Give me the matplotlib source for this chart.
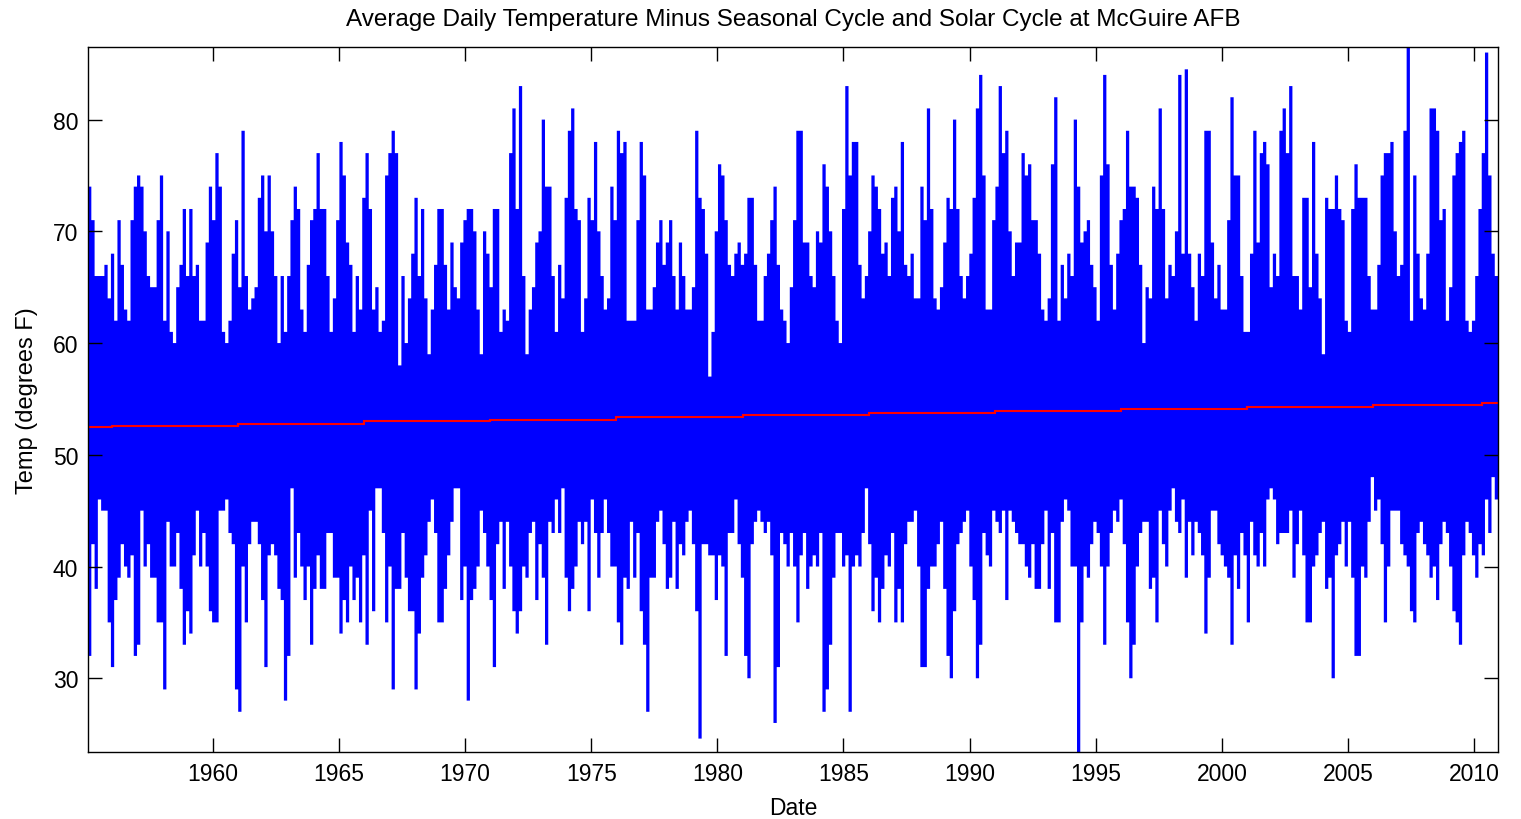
import matplotlib.pyplot as plt
import numpy as np

# upper / lower envelope of the daily series, ~0.13 yr columns (one row per ~4.7 yr)
hi = [
    74, 71, 66, 66, 66, 67, 64, 68, 62, 71, 67, 63, 62, 71, 74, 75, 74, 70, 66, 65, 65, 71, 75, 62, 70, 61, 60, 65, 67, 72, 66, 72, 66, 67, 62, 62,
    69, 74, 71, 77, 74, 61, 60, 62, 68, 71, 65, 79, 66, 63, 64, 65, 73, 75, 70, 75, 70, 66, 60, 66, 61, 66, 71, 74, 72, 63, 61, 67, 71, 72, 77, 72,
    72, 66, 61, 64, 71, 78, 75, 69, 67, 61, 66, 63, 73, 77, 72, 63, 65, 61, 62, 75, 77, 79, 77, 58, 66, 60, 64, 68, 73, 66, 72, 64, 59, 63, 67, 72,
    72, 67, 63, 69, 65, 64, 69, 71, 72, 72, 70, 63, 59, 70, 68, 65, 72, 72, 61, 63, 62, 77, 81, 72, 83, 66, 59, 63, 65, 69, 70, 80, 74, 74, 66, 61,
    67, 64, 73, 79, 81, 72, 71, 61, 64, 73, 71, 78, 70, 66, 63, 64, 74, 71, 79, 77, 78, 62, 62, 62, 71, 78, 75, 63, 63, 65, 69, 71, 67, 69, 71, 66,
    63, 69, 66, 63, 63, 65, 79, 73, 72, 68, 57, 61, 70, 76, 75, 71, 67, 66, 68, 69, 67, 68, 73, 73, 67, 62, 62, 66, 68, 71, 74, 67, 63, 62, 60, 65,
    71, 79, 79, 69, 69, 66, 65, 70, 69, 76, 74, 70, 66, 62, 60, 72, 83, 75, 78, 78, 67, 64, 66, 70, 75, 74, 72, 68, 69, 66, 73, 74, 70, 78, 67, 66,
    68, 64, 64, 74, 71, 81, 72, 64, 63, 65, 69, 73, 72, 80, 72, 66, 64, 66, 68, 73, 81, 84, 75, 63, 63, 71, 74, 83, 77, 79, 70, 66, 69, 69, 77, 75,
    76, 71, 71, 68, 63, 62, 64, 76, 82, 62, 67, 64, 68, 66, 80, 74, 69, 70, 71, 67, 65, 62, 75, 84, 76, 67, 63, 68, 71, 72, 79, 74, 74, 73, 67, 60,
    65, 64, 74, 72, 81, 72, 64, 67, 66, 70, 84, 68, 84.5, 68, 65, 62, 68, 66, 79, 79, 69, 64, 67, 63, 63, 71, 82, 75, 75, 66, 61, 61, 68, 79, 69, 77,
    78, 76, 65, 68, 66, 79, 81, 77, 83, 66, 66, 63, 73, 73, 65, 78, 68, 64, 59, 73, 72, 72, 75, 72, 71, 62, 61, 72, 76, 73, 73, 73, 66, 63, 63, 67,
    75, 77, 77, 78, 70, 66, 67, 79, 86.5, 62, 75, 68, 64, 63, 68, 81, 81, 79, 71, 72, 62, 65, 75, 77, 78, 79, 62, 61, 62, 66, 72, 77, 86, 75, 68, 66,
]
lo = [
    32, 42, 38, 46, 45, 45, 35, 31, 37, 39, 42, 40, 39, 41, 32, 33, 45, 40, 42, 39, 39, 35, 35, 29, 44, 40, 40, 43, 38, 33, 36, 34, 41, 45, 40, 43,
    40, 36, 35, 35, 45, 45, 46, 43, 42, 29, 27, 40, 35, 42, 44, 44, 42, 37, 31, 41, 42, 41, 38, 37, 28, 32, 47, 39, 43, 40, 37, 40, 33, 38, 41, 38,
    38, 43, 43, 39, 39, 34, 37, 35, 40, 37, 39, 35, 41, 33, 45, 36, 47, 47, 43, 35, 40, 29, 38, 38, 43, 39, 36, 36, 29, 34, 39, 41, 44, 46, 43, 35,
    35, 38, 41, 44, 47, 47, 37, 40, 28, 37, 38, 40, 45, 43, 40, 37, 31, 42, 44, 38, 44, 40, 36, 34, 36, 40, 39, 43, 44, 37, 42, 39, 33, 44, 43, 46,
    43, 47, 39, 36, 38, 40, 44, 42, 44, 36, 46, 43, 39, 43, 46, 43, 40, 40, 35, 33, 39, 38, 44, 39, 43, 36, 33, 27, 39, 39, 44, 45, 42, 38, 39, 44,
    38, 42, 41, 44, 45, 42, 36, 24.6, 42, 42, 41, 41, 37, 41, 40, 32, 43, 43, 46, 42, 39, 32, 30, 42, 44, 45, 44, 43, 44, 41, 26, 31, 43, 42, 40, 43,
    40, 35, 41, 43, 38, 40, 41, 40, 43, 27, 29, 33, 39, 43, 43, 40, 41, 27, 40, 41, 40, 43, 47, 42, 36, 39, 35, 38, 41, 40, 43, 35, 38, 35, 42, 44,
    44, 45, 40, 31, 31, 38, 40, 40, 42, 44, 38, 32, 30, 36, 42, 43, 44, 45, 40, 37, 30, 33, 43, 41, 40, 45, 44, 43, 45, 37, 45, 44, 43, 42, 42, 40,
    39, 42, 38, 38, 42, 45, 38, 43, 35, 35, 44, 46, 45, 40, 40, 23.4, 35, 40, 39, 42, 44, 43, 40, 33, 40, 43, 45, 44, 46, 42, 35, 30, 33, 40, 43, 44,
    44, 38, 39, 35, 45, 42, 40, 45, 47, 44, 43, 46, 39, 44, 41, 44, 43, 41, 34, 39, 45, 45, 42, 41, 40, 39, 33, 41, 38, 43, 41, 35, 44, 41, 40, 43,
    40, 46, 47, 46, 42, 43, 43, 43, 45, 39, 42, 45, 41, 35, 35, 40, 41, 43, 44, 38, 39, 30, 41, 42, 44, 40, 44, 39, 32, 32, 40, 39, 44, 48, 45, 46,
    42, 35, 40, 45, 45, 45, 42, 41, 40, 36, 35, 43, 44, 42, 41, 39, 40, 37, 42, 44, 43, 40, 36, 35, 33, 41, 44, 43, 41, 39, 42, 41, 46, 43, 48, 46,
]
start_year = 1955.05
end_year = 2010.95

# red trend line (steps)
trend_edges = [1955.05, 1956, 1961, 1966, 1971, 1976, 1981, 1986, 1991, 1996, 2001, 2006, 2010.3, 2010.95]
trend_vals = [52.46, 52.62, 52.78, 52.98, 53.15, 53.35, 53.55, 53.71, 53.91, 54.07, 54.25, 54.44, 54.6]

plt.rcParams['font.family'] = ['Liberation Sans', 'DejaVu Sans']

fig = plt.figure(figsize=(15.21, 8.2), dpi=100)
ax = fig.add_axes([0.0579, 0.0817, 0.9270, 0.8598])

edges = np.linspace(start_year, end_year, len(hi) + 1)
ax.stairs(hi, edges, baseline=lo, fill=True, color='#0000ff', lw=0)
ax.stairs(trend_vals, trend_edges, baseline=None, color='#ff0000', lw=1.5)

ax.set_xlim(start_year, end_year)
ax.set_ylim(min(lo), max(hi))
ax.set_xticks(np.arange(1960, 2011, 5))
ax.set_yticks(np.arange(30, 81, 10))
ax.tick_params(direction='in', top=True, right=True, length=10, width=1,
               labelsize=16.5, pad=7)
for s in ax.spines.values():
    s.set_linewidth(1)

ax.set_title('Average Daily Temperature Minus Seasonal Cycle and Solar Cycle at McGuire AFB',
             fontsize=17.5, pad=16)
ax.set_xlabel('Date', fontsize=16.5, labelpad=8)
ax.set_ylabel('Temp (degrees F)', fontsize=17, labelpad=11)

fig.savefig('out.png', dpi=100)
